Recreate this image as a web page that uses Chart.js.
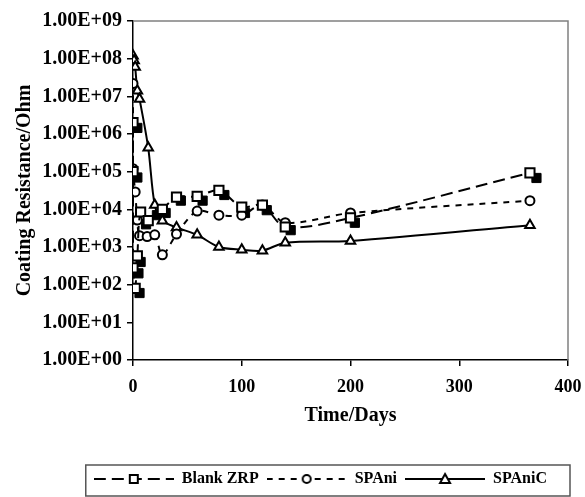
<!DOCTYPE html>
<html lang="en">
<head>
<meta charset="UTF-8">
<title>Coating Resistance vs Time</title>
<script src="https://cdn.jsdelivr.net/npm/chart.js"></script>
<style>
  html, body { margin: 0; padding: 0; background: #fff; }
</style>
</head>
<body>
<canvas id="resChart" width="585" height="497"></canvas>
<script>
// days of immersion and measured coating resistance (ohm)
const blankDays = [0, 0, 0, 2, 4, 7, 14, 27, 40, 59, 79, 100, 119, 140, 200, 365];
const blankOhm  = [2e6, 1e5, 280, 80, 580, 8500, 5000, 1e4, 2.1e4, 2.2e4, 3.2e4, 1.15e4, 1.3e4, 3400, 5900, 9.3e4];

// second blank ZRP panel, markers only
const blankBDays = [4, 4, 5, 7, 6, 12, 22, 30, 44, 64, 84, 103, 123, 145, 204, 371];
const blankBOhm  = [1.45e6, 7e4, 200, 400, 60, 4000, 7000, 8000, 1.7e4, 1.7e4, 2.4e4, 8000, 9500, 2800, 4400, 6.8e4];

const spaniDays = [0, 0, 2, 4, 6, 13, 20, 27, 40, 59, 79, 100, 119, 140, 200, 365];
const spaniOhm  = [2.2e7, 1.2e5, 2.9e4, 5200, 2000, 1900, 2100, 620, 2200, 9000, 7000, 7000, 1.3e4, 4400, 8000, 1.7e4];

const spanicDays = [0, 1, 2, 4, 6, 14, 20, 27, 40, 59, 79, 100, 119, 140, 200, 365];
const spanicOhm  = [1.2e8, 9e7, 6e7, 1.4e7, 8.5e6, 4.3e5, 1.3e4, 5000, 3300, 2100, 1000, 850, 800, 1300, 1450, 3800];

const xTicks = [0, 100, 200, 300, 400];
const yTicks = [1, 10, 100, 1e3, 1e4, 1e5, 1e6, 1e7, 1e8, 1e9];

const FONT = '"Liberation Serif", "Times New Roman", serif';
const LEGEND_SHIFT = 13;   // pull the legend row in from the right edge

const pts = (xs, ys) => xs.map((x, i) => ({ x: x, y: ys[i] }));

// 1.00E+05 style labels
function sci(v) {
  const parts = v.toExponential(2).toUpperCase().split('E');
  const e = parts[1];
  return parts[0] + 'E' + e[0] + e.slice(1).padStart(2, '0');
}

// line-with-marker swatch for the legend
function swatch(dash, marker) {
  const c = document.createElement('canvas');
  c.width = 80; c.height = 16;
  const g = c.getContext('2d');
  g.strokeStyle = '#000';
  g.lineWidth = 2;
  g.setLineDash(dash);
  g.beginPath(); g.moveTo(0, 8); g.lineTo(80, 8); g.stroke();
  g.setLineDash([]);
  g.fillStyle = '#fff';
  g.beginPath();
  if (marker === 'rect') g.rect(36, 4, 8, 8);
  else if (marker === 'circle') g.arc(40, 8, 4, 0, Math.PI * 2);
  else { g.moveTo(40, 3); g.lineTo(45, 12); g.lineTo(35, 12); g.closePath(); }
  g.fill(); g.stroke();
  return c;
}

const frame = {
  id: 'frame',
  afterLayout(chart) {
    chart.legend.right -= LEGEND_SHIFT;
  },
  beforeDatasetsDraw(chart) {
    const { ctx, chartArea: a } = chart;
    ctx.save();
    ctx.strokeStyle = '#808080';
    ctx.lineWidth = 1.5;
    ctx.beginPath();
    ctx.moveTo(a.left, a.top);
    ctx.lineTo(a.right, a.top);
    ctx.lineTo(a.right, a.bottom);
    ctx.stroke();
    ctx.restore();
  },
  afterDraw(chart) {
    const boxes = chart.legend.legendHitBoxes;
    if (!boxes || !boxes.length) return;
    const left = Math.min(...boxes.map(b => b.left)) - 8;
    const right = chart.chartArea.right + 2;
    const top = boxes[0].top - 6;
    const ctx = chart.ctx;
    ctx.save();
    ctx.strokeStyle = '#555';
    ctx.lineWidth = 1.5;
    ctx.strokeRect(left, top, right - left, 496 - top);
    ctx.restore();
  }
};

const samples = [swatch([12, 6], 'rect'), swatch([6, 6], 'circle'), swatch([], 'triangle')];

new Chart(document.getElementById('resChart'), {
  type: 'line',
  data: {
    datasets: [
      {
        label: 'Blank ZRP',
        data: pts(blankDays, blankOhm),
        borderColor: '#000', borderWidth: 2, borderDash: [12, 6],
        pointStyle: 'rect', pointRadius: 6.5, pointBorderWidth: 2,
        pointBackgroundColor: '#fff', pointBorderColor: '#000',
        tension: 0.3
      },
      {
        label: 'SPAni',
        data: pts(spaniDays, spaniOhm),
        borderColor: '#000', borderWidth: 2, borderDash: [6, 6],
        pointStyle: 'circle', pointRadius: 4.5, pointBorderWidth: 2,
        pointBackgroundColor: '#fff', pointBorderColor: '#000',
        tension: 0.3
      },
      {
        label: 'SPAniC',
        data: pts(spanicDays, spanicOhm),
        borderColor: '#000', borderWidth: 2,
        pointStyle: 'triangle', pointRadius: 5.5, pointBorderWidth: 2,
        pointBackgroundColor: '#fff', pointBorderColor: '#000',
        tension: 0.3
      },
      {
        label: 'Blank ZRP (2)',
        data: pts(blankBDays, blankBOhm),
        showLine: false,
        pointStyle: 'rect', pointRadius: 6.5, pointBorderWidth: 1,
        pointBackgroundColor: '#000', pointBorderColor: '#000'
      }
    ]
  },
  options: {
    responsive: false,
    animation: false,
    layout: { padding: { top: 21, right: 17, left: 0, bottom: 0 } },
    scales: {
      x: {
        type: 'linear',
        min: 0, max: 400,
        afterBuildTicks: s => { s.ticks = xTicks.map(v => ({ value: v })); },
        afterFit: s => { s.height = 103; s.paddingLeft = 0; s.paddingRight = 0; },
        grid: { display: true, drawOnChartArea: false, drawTicks: true, tickLength: 6, color: '#000', lineWidth: 1.5 },
        border: { display: true, color: '#000', width: 1.5 },
        ticks: { color: '#000', padding: 11, font: { family: FONT, size: 18, weight: 'bold' } },
        title: { display: true, text: 'Time/Days', color: '#000', padding: { top: 0, bottom: 35 },
                 font: { family: FONT, size: 20, weight: 'bold' } }
      },
      y: {
        type: 'logarithmic',
        min: 1, max: 1e9,
        afterBuildTicks: s => { s.ticks = yTicks.map(v => ({ value: v })); },
        afterFit: s => { s.width = 133; },
        grid: { display: true, drawOnChartArea: false, drawTicks: true, tickLength: 6, color: '#000', lineWidth: 1.5 },
        border: { display: true, color: '#000', width: 1.5 },
        ticks: { color: '#000', padding: 5, callback: v => sci(v),
                 font: { family: FONT, size: 20, weight: 'bold' } },
        title: { display: true, text: 'Coating Resistance/Ohm', color: '#000', padding: { top: 13, bottom: 0 },
                 font: { family: FONT, size: 20, weight: 'bold' } }
      }
    },
    plugins: {
      tooltip: { enabled: false },
      legend: {
        position: 'bottom',
        align: 'end',
        labels: {
          usePointStyle: true,
          pointStyleWidth: 80,
          padding: 8,
          color: '#000',
          font: { family: FONT, size: 16, weight: 'bold' },
          generateLabels: chart => chart.data.datasets.slice(0, 3).map((ds, i) => ({
            text: ds.label,
            pointStyle: samples[i],
            datasetIndex: i,
            hidden: false,
            lineWidth: 0,
            fillStyle: 'transparent',
            strokeStyle: 'transparent',
            fontColor: '#000'
          }))
        }
      }
    }
  },
  plugins: [frame]
});
</script>
</body>
</html>
